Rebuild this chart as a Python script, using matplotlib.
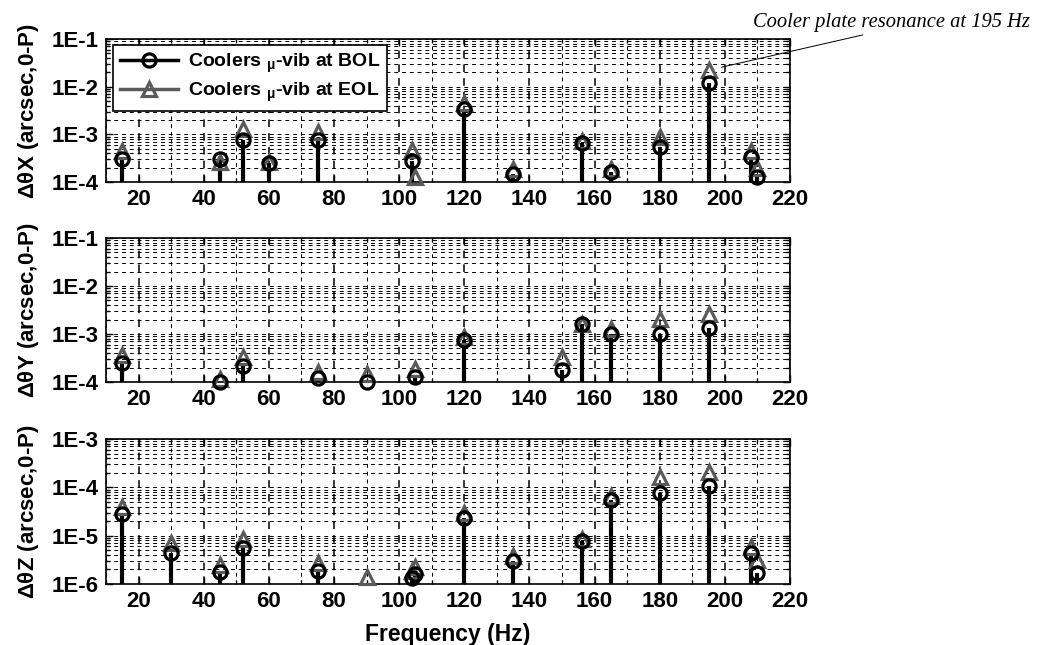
import numpy as np
import matplotlib
matplotlib.use('Agg')
import matplotlib.pyplot as plt
from matplotlib.ticker import FixedLocator, LogLocator, NullFormatter
from matplotlib.lines import Line2D

plt.rcParams['font.family'] = ['Liberation Sans', 'DejaVu Sans']
plt.rcParams['mathtext.fontset'] = 'custom'
plt.rcParams['mathtext.rm'] = 'Liberation Sans:bold'
plt.rcParams['mathtext.it'] = 'Liberation Sans:bold'
plt.rcParams['mathtext.bf'] = 'Liberation Sans:bold'

# X axis (dtheta X)
x_bol_f = [15, 45, 52, 60, 75, 104, 120, 135, 156, 165, 180, 195, 208, 210]
x_bol_v = [3.1e-4, 3.0e-4, 7.6e-4, 2.5e-4, 7.6e-4, 2.8e-4, 3.4e-3, 1.5e-4, 6.6e-4, 1.6e-4, 5.3e-4, 1.17e-2, 3.4e-4, 1.25e-4]
x_eol_f = [15, 45, 52, 60, 75, 104, 105, 120, 135, 156, 165, 180, 195, 208, 210]
x_eol_v = [4.5e-4, 2.6e-4, 1.3e-3, 2.6e-4, 1.1e-3, 4.6e-4, 1.3e-4, 4.6e-3, 1.9e-4, 7.2e-4, 1.9e-4, 9.0e-4, 2.2e-2, 4.5e-4, 2.0e-4]

# Y axis (dtheta Y)
y_bol_f = [15, 45, 52, 75, 90, 105, 120, 150, 156, 165, 180, 195]
y_bol_v = [2.45e-4, 1.0e-4, 2.2e-4, 1.2e-4, 1.0e-4, 1.3e-4, 7.5e-4, 1.78e-4, 1.65e-3, 9.9e-4, 9.9e-4, 1.35e-3]
y_eol_f = [15, 45, 52, 75, 90, 105, 120, 150, 156, 165, 180, 195]
y_eol_v = [3.6e-4, 1.15e-4, 3.3e-4, 1.65e-4, 1.5e-4, 1.9e-4, 8.8e-4, 3.3e-4, 1.6e-3, 1.25e-3, 2.1e-3, 2.6e-3]

# Z axis (dtheta Z)
z_bol_f = [15, 30, 45, 52, 75, 104, 105, 120, 135, 156, 165, 180, 195, 208, 210]
z_bol_v = [2.8e-5, 4.3e-6, 1.8e-6, 5.5e-6, 1.86e-6, 1.3e-6, 1.6e-6, 2.35e-5, 3.0e-6, 7.8e-6, 5.5e-5, 7.6e-5, 1.07e-4, 4.4e-6, 1.7e-6]
z_eol_f = [15, 30, 45, 52, 75, 90, 104, 105, 120, 135, 156, 165, 180, 195, 208, 210]
z_eol_v = [3.9e-5, 7.2e-6, 2.5e-6, 8.5e-6, 2.7e-6, 1.4e-6, 1.9e-6, 2.2e-6, 3.0e-5, 3.8e-6, 8.5e-6, 6.5e-5, 1.6e-4, 2.1e-4, 5.7e-6, 3.2e-6]

panels = [
    (x_bol_f, x_bol_v, x_eol_f, x_eol_v, (1e-4, 1e-1), r'$\Delta\theta$X (arcsec,0-P)'),
    (y_bol_f, y_bol_v, y_eol_f, y_eol_v, (1e-4, 1e-1), r'$\Delta\theta$Y (arcsec,0-P)'),
    (z_bol_f, z_bol_v, z_eol_f, z_eol_v, (1e-6, 1e-3), r'$\Delta\theta$Z (arcsec,0-P)'),
]

W, H = 1039, 645
fig = plt.figure(figsize=(W / 100, H / 100), dpi=100)
boxes = [(39, 182), (238, 382), (439, 584)]
gray = '#5a5a5a'

axes = []
for (top, bot), (bf, bv, ef, ev, ylim, ylab) in zip(boxes, panels):
    ax = fig.add_axes([106 / W, 1 - bot / H, (790 - 106) / W, (bot - top) / H])
    ax.set_yscale('log')
    ax.set_xlim(10, 220)
    ax.set_ylim(*ylim)
    ax.xaxis.set_major_locator(FixedLocator(np.arange(20, 221, 20)))
    ax.xaxis.set_minor_locator(FixedLocator(np.arange(10, 221, 10)))
    ax.yaxis.set_minor_locator(LogLocator(base=10, subs=np.arange(2, 10)))
    ax.yaxis.set_minor_formatter(NullFormatter())
    lo_exp = int(round(np.log10(ylim[0])))
    exps = range(lo_exp, lo_exp + 4)
    ax.set_yticks([10.0 ** e for e in exps])
    ax.set_yticklabels(['1E%d' % e for e in exps])
    ax.grid(True, which='both', color='black', linestyle=(0, (4, 4)), linewidth=0.7)
    ax.xaxis.grid(True, which='major', color='black', linestyle=(0, (5, 4)), linewidth=1.1)
    ax.tick_params(which='both', direction='in', top=True, right=True, labelsize=16, width=1.0)
    ax.tick_params(which='major', length=5, pad=5)
    ax.tick_params(which='minor', length=3)
    for lab in ax.get_xticklabels() + ax.get_yticklabels():
        lab.set_fontweight('bold')
    for sp in ax.spines.values():
        sp.set_linewidth(1.2)
    ax.set_ylabel(ylab, fontsize=16, fontweight='bold', labelpad=8)

    ax.vlines(bf, ylim[0], bv, color='black', linewidth=3, zorder=3)
    ax.plot(ef, ev, linestyle='none', marker='^', markersize=10.5, markerfacecolor='none',
            markeredgecolor=gray, markeredgewidth=2.3, zorder=4, clip_on=False)
    ax.plot(bf, bv, linestyle='none', marker='o', markersize=9.5, markerfacecolor='none',
            markeredgecolor='black', markeredgewidth=2.3, zorder=5, clip_on=False)
    axes.append(ax)

axes[2].set_xlabel('Frequency (Hz)', fontsize=16.5, fontweight='bold', labelpad=8)

handles = [
    Line2D([], [], color='black', linewidth=2.5, marker='o', markersize=9.5,
           markerfacecolor='none', markeredgewidth=2.3),
    Line2D([], [], color=gray, linewidth=2.5, marker='^', markersize=10.5,
           markerfacecolor='none', markeredgewidth=2.3),
]
leg = axes[0].legend(handles, [r'Coolers $_{\mu}$-vib at BOL', r'Coolers $_{\mu}$-vib at EOL'],
                     loc='upper left', bbox_to_anchor=(0.010, 0.958), fancybox=False,
                     edgecolor='black', framealpha=1, handlelength=3.0,
                     prop={'weight': 'bold', 'size': 14}, borderpad=0.35, labelspacing=0.3,
                     handletextpad=0.5, borderaxespad=0)
leg.get_frame().set_linewidth(1.2)

axes[0].annotate('Cooler plate resonance at 195 Hz', xy=(196, 2.3e-2),
                 xytext=(1030 / W, 1 - 22 / H), textcoords='figure fraction',
                 ha='right', va='center', fontsize=14.8, fontstyle='italic',
                 family='Liberation Serif', annotation_clip=False,
                 arrowprops=dict(arrowstyle='-', color='black', linewidth=0.7,
                                 shrinkA=2, shrinkB=7, relpos=(0.45, 0.0)))

fig.savefig('out.png', dpi=100)
